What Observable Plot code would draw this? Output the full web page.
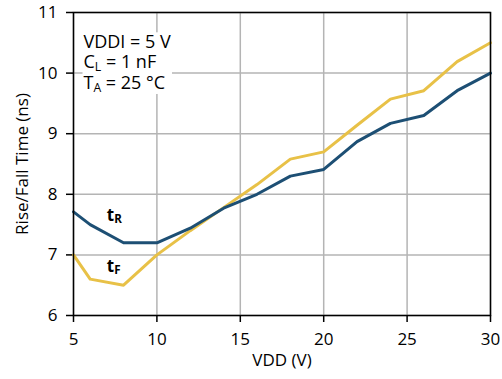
<!DOCTYPE html>
<html>
<head>
<meta charset="utf-8">
<script src="https://cdn.jsdelivr.net/npm/d3@7"></script>
<script src="https://cdn.jsdelivr.net/npm/@observablehq/plot@0.6"></script>
<style>
  html, body { margin: 0; padding: 0; background: #fff; }
  #chart { width: 502px; height: 379px; }
</style>
</head>
<body>
<div id="chart"></div>
<script>
// ---- data ----
const vdd   = [5, 6, 8, 10, 12, 14, 16, 18, 20, 22, 24, 26, 28, 30];
const tRise = [7.71, 7.5, 7.2, 7.2, 7.44, 7.77, 8.0, 8.3, 8.41, 8.87, 9.17, 9.3, 9.71, 10.0];
const tFall = [7.0, 6.6, 6.5, 7.0, 7.4, 7.78, 8.16, 8.58, 8.7, 9.14, 9.57, 9.71, 10.19, 10.5];
const xTicks = [5, 10, 15, 20, 25, 30];
const yTicks = [6, 7, 8, 9, 10, 11];
const seriesLabels = [
  {x: 7, y: 7.65, text: "t_R"},
  {x: 7, y: 6.81, text: "t_F"}
];
const conditions = ["VDDI = 5 V", "C_L = 1 nF", "T_A = 25 °C"];

const rise = vdd.map((v, i) => ({x: v, y: tRise[i]}));
const fall = vdd.map((v, i) => ({x: v, y: tFall[i]}));

const BLUE = "#1d4f74";
const YELLOW = "#e8c147";
const GRID = "#b4b4b4";

const chart = Plot.plot({
  width: 502,
  height: 379,
  marginLeft: 73,
  marginRight: 12,
  marginTop: 12,
  marginBottom: 64,
  style: {fontFamily: "'Open Sans', sans-serif", fontSize: "17px", color: "#000", background: "#fff", overflow: "visible"},
  x: {domain: [5, 30]},
  y: {domain: [6, 11]},
  marks: [
    Plot.gridX(xTicks, {stroke: GRID, strokeOpacity: 1, strokeWidth: 1.5}),
    Plot.gridY(yTicks, {stroke: GRID, strokeOpacity: 1, strokeWidth: 1.5}),
    Plot.axisX(xTicks, {tickSize: 7, tickPadding: 10, strokeWidth: 1.5, label: null, fontSize: 17, tickFormat: d => String(d)}),
    Plot.axisY(yTicks, {tickSize: 7, tickPadding: 9, strokeWidth: 1.5, label: null, fontSize: 17, tickFormat: d => String(d)}),
    Plot.line(fall, {x: "x", y: "y", stroke: YELLOW, strokeWidth: 3, strokeLinejoin: "round"}),
    Plot.line(rise, {x: "x", y: "y", stroke: BLUE, strokeWidth: 3, strokeLinejoin: "round"}),
    Plot.frame({stroke: "#000", strokeWidth: 1.5}),
    Plot.text(seriesLabels, {x: "x", y: "y", text: "text", textAnchor: "start", fontSize: 17, fontWeight: "bold", fill: "#000", className: "rich"}),
    Plot.text([conditions[0]], {frameAnchor: "top-left", dx: 10, dy: 23, lineAnchor: "top", textAnchor: "start", fontSize: 18, fill: "#000", className: "rich annot"}),
    Plot.text([conditions[1]], {frameAnchor: "top-left", dx: 10, dy: 43, lineAnchor: "top", textAnchor: "start", fontSize: 18, fill: "#000", className: "rich annot"}),
    Plot.text([conditions[2]], {frameAnchor: "top-left", dx: 10, dy: 64, lineAnchor: "top", textAnchor: "start", fontSize: 18, fill: "#000", className: "rich annot"}),
    Plot.text(["VDD (V)"], {frameAnchor: "bottom", dy: 50, fontSize: 17, fill: "#000"}),
    Plot.text(["Rise/Fall Time (ns)"], {frameAnchor: "left", textAnchor: "middle", dx: -51, rotate: -90, fontSize: 17, fill: "#000"})
  ]
});

document.getElementById("chart").appendChild(chart);

// Rich text: "X_S rest" -> X with subscript S
d3.select(chart).selectAll("g.rich text").each(function () {
  const t = this.textContent;
  const m = t.match(/^([^_]*)_(\S)(.*)$/);
  if (!m) return;
  const el = d3.select(this);
  el.text("");
  el.append("tspan").text(m[1]);
  el.append("tspan").attr("font-size", "0.68em").attr("dy", "0.22em").text(m[2]);
  if (m[3]) el.append("tspan").attr("dy", "-0.15em").text(m[3]);
});

// white box behind condition text, sized from the rendered text (screen coords)
const annotNodes = d3.select(chart).selectAll("g.annot text").nodes();
if (annotNodes.length) {
  const s = chart.getBoundingClientRect();
  let x0 = Infinity, y0 = Infinity, x1 = -Infinity, y1 = -Infinity;
  annotNodes.forEach(n => {
    const b = n.getBoundingClientRect();
    x0 = Math.min(x0, b.left - s.left); y0 = Math.min(y0, b.top - s.top);
    x1 = Math.max(x1, b.right - s.left); y1 = Math.max(y1, b.bottom - s.top);
  });
  const firstG = annotNodes[0].closest("g.annot");
  d3.select(firstG.parentNode).insert("rect", () => firstG)
    .attr("x", x0 - 1).attr("y", y0 + 3)
    .attr("width", x1 - x0 + 2).attr("height", y1 - y0 - 5)
    .attr("fill", "#fff");
}
</script>
</body>
</html>
